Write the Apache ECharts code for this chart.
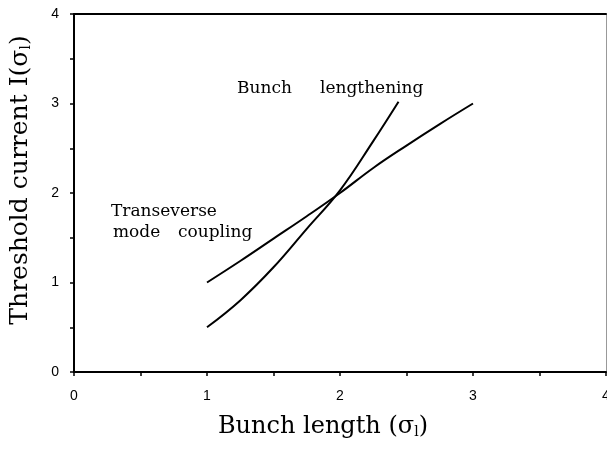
<!DOCTYPE html>
<html><head><meta charset="utf-8">
<script src="https://cdn.jsdelivr.net/npm/echarts@6/dist/echarts.min.js"></script>
<style>html,body{margin:0;padding:0;background:#fff}#c{width:607px;height:453px}</style>
</head><body><div id="c"></div>
<script>
const xTicks = [0, 1, 2, 3, 4];
const yTicks = [0, 1, 2, 3, 4];
const couplingX = [1, 1.25, 1.5, 1.75, 2.0, 2.25, 2.5, 2.75, 3.0];
const couplingY = [1, 1.24, 1.49, 1.74, 2.0, 2.28, 2.53, 2.77, 3.0];
const lengtheningX = [1, 1.25, 1.5, 1.75, 2.0, 2.25, 2.44];
const lengtheningY = [0.5, 0.8, 1.17, 1.6, 2.03, 2.58, 3.02];
const xName = 'Bunch length (σ{sub|l})';
const yName = 'Threshold current I(σ{sub|l})';

const serif = '"DejaVu Serif", serif';
const zip = (xs, ys) => xs.map((x, i) => [x, ys[i]]);
const chart = echarts.init(document.getElementById('c'), null, {renderer: 'canvas'});
const nameStyle = (size) => ({
  fontFamily: serif, fontSize: size, color: '#000',
  rich: { sub: { fontFamily: serif, fontSize: 14, color: '#000', verticalAlign: 'bottom', lineHeight: 10 } }
});
const tickLabel = {fontFamily: '"Liberation Sans", Arial, sans-serif', fontSize: 14, color: '#000'};
chart.setOption({
  animation: false,
  backgroundColor: '#fff',
  grid: {left: 74, right: 1, top: 14, bottom: 81, containLabel: false, outerBoundsMode: 'none'},
  xAxis: [{
    type: 'value', min: 0, max: 4, interval: 1, position: 'bottom',
    axisLine: {show: true, onZero: false, lineStyle: {color: '#000', width: 2}},
    axisTick: {show: true, inside: false, length: 4, lineStyle: {color: '#000', width: 1.5}},
    minorTick: {show: true, splitNumber: 2, length: 4, lineStyle: {color: '#000', width: 1.5}},
    splitLine: {show: false},
    axisLabel: Object.assign({margin: 17, hideOverlap: false, formatter: v => xTicks.includes(v) ? String(v) : ''}, tickLabel),
    name: xName, nameLocation: 'middle', nameGap: 43,
    nameTextStyle: Object.assign({padding: [0, 34, 0, 0]}, nameStyle(24))
  }, {
    type: 'value', min: 0, max: 4, interval: 1, position: 'top',
    axisLine: {show: true, onZero: false, lineStyle: {color: '#000', width: 2}},
    axisTick: {show: false}, axisLabel: {show: false}, splitLine: {show: false}
  }],
  yAxis: [{
    type: 'value', min: 0, max: 4, interval: 1, position: 'left',
    axisLine: {show: true, onZero: false, lineStyle: {color: '#000', width: 2}},
    axisTick: {show: true, inside: false, length: 4, lineStyle: {color: '#000', width: 1.5}},
    minorTick: {show: true, splitNumber: 2, length: 4, lineStyle: {color: '#000', width: 1.5}},
    splitLine: {show: false},
    axisLabel: Object.assign({margin: 15, formatter: v => yTicks.includes(v) ? String(v) : ''}, tickLabel),
    name: yName, nameLocation: 'middle', nameGap: 41,
    nameTextStyle: Object.assign({padding: [0, 0, 0, 26]}, nameStyle(25))
  }, {
    type: 'value', min: 0, max: 4, interval: 1, position: 'right',
    axisLine: {show: true, onZero: false, lineStyle: {color: '#999', width: 1}},
    axisTick: {show: false}, axisLabel: {show: false}, splitLine: {show: false}
  }],
  series: [{
    name: 'Transeverse mode coupling', type: 'line', smooth: 0.4, symbol: 'none',
    data: zip(couplingX, couplingY), lineStyle: {color: '#000', width: 2}
  }, {
    name: 'Bunch lengthening', type: 'line', smooth: 0.4, symbol: 'none',
    data: zip(lengtheningX, lengtheningY), lineStyle: {color: '#000', width: 2}
  }],
  graphic: [
    {type: 'text', left: 237, top: 80, style: {text: 'Bunch', font: '17px "DejaVu Serif"', fill: '#000'}},
    {type: 'text', left: 320, top: 80, style: {text: 'lengthening', font: '17px "DejaVu Serif"', fill: '#000'}},
    {type: 'text', left: 111, top: 203, style: {text: 'Transeverse', font: '17px "DejaVu Serif"', fill: '#000'}},
    {type: 'text', left: 113, top: 224, style: {text: 'mode', font: '17px "DejaVu Serif"', fill: '#000'}},
    {type: 'text', left: 178, top: 224, style: {text: 'coupling', font: '17px "DejaVu Serif"', fill: '#000'}}
  ]
});
</script></body></html>
